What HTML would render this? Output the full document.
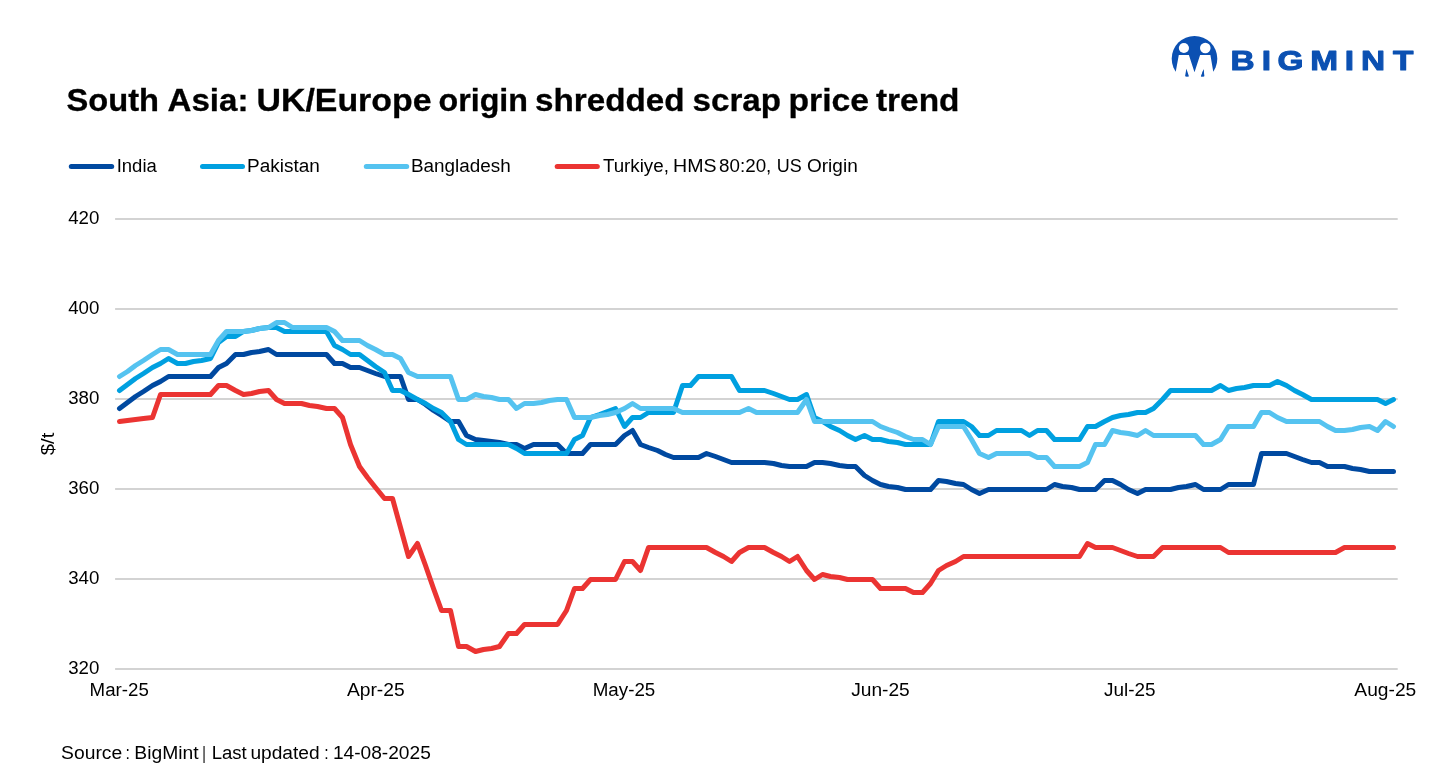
<!DOCTYPE html>
<html lang="en">
<head>
<meta charset="utf-8">
<title>South Asia: UK/Europe origin shredded scrap price trend</title>
<style>
html,body{margin:0;padding:0;background:#fff;}
body{width:1434px;height:778px;overflow:hidden;position:relative;font-family:"Liberation Sans",sans-serif;color:#000;}
svg{position:absolute;left:0;top:0;}
text{font-family:"Liberation Sans",sans-serif;}
.t{font-size:18px;fill:#000;}
</style>
</head>
<body>
<svg width="1434" height="778" viewBox="0 0 1434 778">
<g id="logo">
<defs><clipPath id="lc"><rect x="1160" y="30" width="70" height="46.6"/></clipPath></defs>
<circle cx="1194.5" cy="58.7" r="22.8" fill="#0B50B2" clip-path="url(#lc)"/>
<circle cx="1183.9" cy="48" r="5.1" fill="#fff"/>
<circle cx="1205.3" cy="48" r="5.3" fill="#fff"/>
<polygon fill="#fff" points="1178.8,54.9 1188.9,54.9 1194.5,72.3 1200.1,54.9 1210.4,54.9 1213.4,72.6 1213.4,82 1204.2,82 1203.5,69.2 1201,77 1188,77 1186.2,69.2 1185.5,82 1175.6,82 1175.6,72.6"/>
<polygon fill="#0B50B2" points="1186.4,68.8 1185.1,76.3 1189,76.5"/>
<polygon fill="#0B50B2" points="1203.6,69.2 1200.9,76.5 1204.4,76.3"/>
<text id="bm" font-size="27.6" font-weight="bold" fill="#0B50B2" stroke="#0B50B2" stroke-width="1" stroke-linejoin="round" transform="translate(0,70.4) scale(1.21,1.03)" y="0" x="1016.94 1042.81 1055.70 1082.77 1111.45 1124.75 1151.24">BIGMINT</text>
</g>
<text id="title" y="111.4" font-size="32" font-weight="bold" stroke="#000" stroke-width="0.3"><tspan x="66.5" textLength="92.5" lengthAdjust="spacingAndGlyphs">South</tspan> <tspan x="167.5" textLength="81.0" lengthAdjust="spacingAndGlyphs">Asia:</tspan> <tspan x="256.5" textLength="175.0" lengthAdjust="spacingAndGlyphs">UK/Europe</tspan> <tspan x="438.5" textLength="89.5" lengthAdjust="spacingAndGlyphs">origin</tspan> <tspan x="535.0" textLength="149.5" lengthAdjust="spacingAndGlyphs">shredded</tspan> <tspan x="692.5" textLength="88.5" lengthAdjust="spacingAndGlyphs">scrap</tspan> <tspan x="788.5" textLength="80.5" lengthAdjust="spacingAndGlyphs">price</tspan> <tspan x="876.0" textLength="83.5" lengthAdjust="spacingAndGlyphs">trend</tspan></text>
<line x1="71.3" y1="166.5" x2="111.7" y2="166.5" stroke="#0049A0" stroke-width="5" stroke-linecap="round"/><text class="t" id="l0" y="171.9" ><tspan x="116.7" textLength="40.1" lengthAdjust="spacingAndGlyphs">India</tspan></text>
<line x1="202.5" y1="166.5" x2="242.5" y2="166.5" stroke="#00A0E0" stroke-width="5" stroke-linecap="round"/><text class="t" id="l1" y="171.9" ><tspan x="247.1" textLength="72.8" lengthAdjust="spacingAndGlyphs">Pakistan</tspan></text>
<line x1="366.3" y1="166.5" x2="406.7" y2="166.5" stroke="#55C3F0" stroke-width="5" stroke-linecap="round"/><text class="t" id="l2" y="171.9" ><tspan x="411.0" textLength="99.7" lengthAdjust="spacingAndGlyphs">Bangladesh</tspan></text>
<line x1="557.2" y1="166.5" x2="597.3" y2="166.5" stroke="#EB3432" stroke-width="5" stroke-linecap="round"/><text class="t" id="l3" y="171.9" ><tspan x="602.9" textLength="66.0" lengthAdjust="spacingAndGlyphs">Turkiye,</tspan> <tspan x="673.1" textLength="43.5" lengthAdjust="spacingAndGlyphs">HMS</tspan> <tspan x="719.1" textLength="52.2" lengthAdjust="spacingAndGlyphs">80:20,</tspan> <tspan x="776.7" textLength="25.0" lengthAdjust="spacingAndGlyphs">US</tspan> <tspan x="807.0" textLength="50.7" lengthAdjust="spacingAndGlyphs">Origin</tspan></text>
<line x1="115.1" y1="669.0" x2="1397.7" y2="669.0" stroke="#D3D3D3" stroke-width="2"/><text class="t" x="99.4" y="674.3" text-anchor="end" textLength="31.2" lengthAdjust="spacingAndGlyphs">320</text>
<line x1="115.1" y1="579.0" x2="1397.7" y2="579.0" stroke="#D3D3D3" stroke-width="2"/><text class="t" x="99.4" y="584.3" text-anchor="end" textLength="31.2" lengthAdjust="spacingAndGlyphs">340</text>
<line x1="115.1" y1="489.0" x2="1397.7" y2="489.0" stroke="#D3D3D3" stroke-width="2"/><text class="t" x="99.4" y="494.3" text-anchor="end" textLength="31.2" lengthAdjust="spacingAndGlyphs">360</text>
<line x1="115.1" y1="399.0" x2="1397.7" y2="399.0" stroke="#D3D3D3" stroke-width="2"/><text class="t" x="99.4" y="404.3" text-anchor="end" textLength="31.2" lengthAdjust="spacingAndGlyphs">380</text>
<line x1="115.1" y1="309.0" x2="1397.7" y2="309.0" stroke="#D3D3D3" stroke-width="2"/><text class="t" x="99.4" y="314.3" text-anchor="end" textLength="31.2" lengthAdjust="spacingAndGlyphs">400</text>
<line x1="115.1" y1="219.0" x2="1397.7" y2="219.0" stroke="#D3D3D3" stroke-width="2"/><text class="t" x="99.4" y="224.3" text-anchor="end" textLength="31.2" lengthAdjust="spacingAndGlyphs">420</text>
<text class="t" transform="translate(54.4,444) rotate(-90)" text-anchor="middle" textLength="22.6" lengthAdjust="spacingAndGlyphs">$/t</text>
<text class="t" x="119.2" y="696.3" text-anchor="middle" textLength="59.2" lengthAdjust="spacingAndGlyphs">Mar-25</text>
<text class="t" x="375.8" y="696.3" text-anchor="middle" textLength="57.8" lengthAdjust="spacingAndGlyphs">Apr-25</text>
<text class="t" x="624.0" y="696.3" text-anchor="middle" textLength="62.6" lengthAdjust="spacingAndGlyphs">May-25</text>
<text class="t" x="880.5" y="696.3" text-anchor="middle" textLength="58.6" lengthAdjust="spacingAndGlyphs">Jun-25</text>
<text class="t" x="1129.8" y="696.3" text-anchor="middle" textLength="51.6" lengthAdjust="spacingAndGlyphs">Jul-25</text>
<text class="t" x="1385.3" y="696.3" text-anchor="middle" textLength="61.9" lengthAdjust="spacingAndGlyphs">Aug-25</text>
<polyline fill="none" stroke="#0049A0" stroke-width="5" stroke-linejoin="round" stroke-linecap="round" points="119.5,408.5 127.5,402.5 135.5,396.5 143.5,391.5 152.5,385.5 160.5,381.5 168.5,376.5 177.5,376.5 185.5,376.5 193.5,376.5 201.5,376.5 210.5,376.5 218.5,367.5 226.5,363.5 235.5,354.5 243.5,354.5 251.5,352.5 259.5,351.5 268.5,349.5 276.5,354.5 284.5,354.5 292.5,354.5 301.5,354.5 309.5,354.5 317.5,354.5 326.5,354.5 334.5,363.5 342.5,363.5 350.5,367.5 359.5,367.5 367.5,370.5 375.5,373.5 384.5,376.5 392.5,376.5 400.5,376.5 408.5,399.5 417.5,399.5 425.5,404.5 433.5,410.5 441.5,415.5 450.5,421.5 458.5,421.5 466.5,435.5 475.5,439.5 483.5,440.5 491.5,441.5 499.5,442.5 508.5,444.5 516.5,444.5 524.5,448.5 533.5,444.5 541.5,444.5 549.5,444.5 557.5,444.5 566.5,453.5 574.5,453.5 582.5,453.5 590.5,444.5 599.5,444.5 607.5,444.5 615.5,444.5 624.5,435.5 632.5,430.5 640.5,444.5 648.5,447.5 657.5,450.5 665.5,454.5 673.5,457.5 682.5,457.5 690.5,457.5 698.5,457.5 706.5,453.5 715.5,456.5 723.5,459.5 731.5,462.5 739.5,462.5 748.5,462.5 756.5,462.5 764.5,462.5 773.5,463.5 781.5,465.5 789.5,466.5 797.5,466.5 806.5,466.5 814.5,462.5 822.5,462.5 830.5,463.5 839.5,465.5 847.5,466.5 855.5,466.5 864.5,475.5 872.5,480.5 880.5,484.5 888.5,486.5 897.5,487.5 905.5,489.5 913.5,489.5 922.5,489.5 930.5,489.5 938.5,480.5 946.5,481.5 955.5,483.5 963.5,484.5 971.5,489.5 979.5,493.5 988.5,489.5 996.5,489.5 1004.5,489.5 1013.5,489.5 1021.5,489.5 1029.5,489.5 1037.5,489.5 1046.5,489.5 1054.5,484.5 1062.5,486.5 1071.5,487.5 1079.5,489.5 1087.5,489.5 1095.5,489.5 1104.5,480.5 1112.5,480.5 1120.5,484.5 1128.5,489.5 1137.5,493.5 1145.5,489.5 1153.5,489.5 1162.5,489.5 1170.5,489.5 1178.5,487.5 1186.5,486.5 1195.5,484.5 1203.5,489.5 1211.5,489.5 1220.5,489.5 1228.5,484.5 1236.5,484.5 1244.5,484.5 1253.5,484.5 1261.5,453.5 1269.5,453.5 1277.5,453.5 1286.5,453.5 1294.5,456.5 1302.5,459.5 1311.5,462.5 1319.5,462.5 1327.5,466.5 1335.5,466.5 1344.5,466.5 1352.5,468.5 1360.5,469.5 1369.5,471.5 1377.5,471.5 1385.5,471.5 1393.5,471.5"/>
<polyline fill="none" stroke="#00A0E0" stroke-width="5" stroke-linejoin="round" stroke-linecap="round" points="119.5,390.5 127.5,384.5 135.5,378.5 143.5,373.5 152.5,367.5 160.5,363.5 168.5,358.5 177.5,363.5 185.5,363.5 193.5,361.5 201.5,360.5 210.5,358.5 218.5,342.5 226.5,336.5 235.5,336.5 243.5,331.5 251.5,330.5 259.5,328.5 268.5,327.5 276.5,327.5 284.5,331.5 292.5,331.5 301.5,331.5 309.5,331.5 317.5,331.5 326.5,331.5 334.5,345.5 342.5,349.5 350.5,354.5 359.5,354.5 367.5,360.5 375.5,366.5 384.5,372.5 392.5,390.5 400.5,390.5 408.5,394.5 417.5,399.5 425.5,403.5 433.5,408.5 441.5,412.5 450.5,421.5 458.5,439.5 466.5,444.5 475.5,444.5 483.5,444.5 491.5,444.5 499.5,444.5 508.5,444.5 516.5,448.5 524.5,453.5 533.5,453.5 541.5,453.5 549.5,453.5 557.5,453.5 566.5,453.5 574.5,439.5 582.5,435.5 590.5,417.5 599.5,414.5 607.5,411.5 615.5,408.5 624.5,426.5 632.5,417.5 640.5,417.5 648.5,412.5 657.5,412.5 665.5,412.5 673.5,412.5 682.5,385.5 690.5,385.5 698.5,376.5 706.5,376.5 715.5,376.5 723.5,376.5 731.5,376.5 739.5,390.5 748.5,390.5 756.5,390.5 764.5,390.5 773.5,393.5 781.5,396.5 789.5,399.5 797.5,399.5 806.5,394.5 814.5,417.5 822.5,421.5 830.5,426.5 839.5,430.5 847.5,435.5 855.5,439.5 864.5,435.5 872.5,439.5 880.5,439.5 888.5,441.5 897.5,442.5 905.5,444.5 913.5,444.5 922.5,444.5 930.5,444.5 938.5,421.5 946.5,421.5 955.5,421.5 963.5,421.5 971.5,426.5 979.5,435.5 988.5,435.5 996.5,430.5 1004.5,430.5 1013.5,430.5 1021.5,430.5 1029.5,435.5 1037.5,430.5 1046.5,430.5 1054.5,439.5 1062.5,439.5 1071.5,439.5 1079.5,439.5 1087.5,426.5 1095.5,426.5 1104.5,421.5 1112.5,417.5 1120.5,415.5 1128.5,414.5 1137.5,412.5 1145.5,412.5 1153.5,408.5 1162.5,399.5 1170.5,390.5 1178.5,390.5 1186.5,390.5 1195.5,390.5 1203.5,390.5 1211.5,390.5 1220.5,385.5 1228.5,390.5 1236.5,388.5 1244.5,387.5 1253.5,385.5 1261.5,385.5 1269.5,385.5 1277.5,381.5 1286.5,385.5 1294.5,390.5 1302.5,394.5 1311.5,399.5 1319.5,399.5 1327.5,399.5 1335.5,399.5 1344.5,399.5 1352.5,399.5 1360.5,399.5 1369.5,399.5 1377.5,399.5 1385.5,403.5 1393.5,399.5"/>
<polyline fill="none" stroke="#55C3F0" stroke-width="5" stroke-linejoin="round" stroke-linecap="round" points="119.5,376.5 127.5,371.5 135.5,365.5 143.5,360.5 152.5,354.5 160.5,349.5 168.5,349.5 177.5,354.5 185.5,354.5 193.5,354.5 201.5,354.5 210.5,354.5 218.5,340.5 226.5,331.5 235.5,331.5 243.5,331.5 251.5,330.5 259.5,328.5 268.5,327.5 276.5,322.5 284.5,322.5 292.5,327.5 301.5,327.5 309.5,327.5 317.5,327.5 326.5,327.5 334.5,331.5 342.5,340.5 350.5,340.5 359.5,340.5 367.5,345.5 375.5,349.5 384.5,354.5 392.5,354.5 400.5,358.5 408.5,372.5 417.5,376.5 425.5,376.5 433.5,376.5 441.5,376.5 450.5,376.5 458.5,399.5 466.5,399.5 475.5,394.5 483.5,396.5 491.5,397.5 499.5,399.5 508.5,399.5 516.5,408.5 524.5,403.5 533.5,403.5 541.5,402.5 549.5,400.5 557.5,399.5 566.5,399.5 574.5,417.5 582.5,417.5 590.5,417.5 599.5,415.5 607.5,414.5 615.5,412.5 624.5,408.5 632.5,403.5 640.5,408.5 648.5,408.5 657.5,408.5 665.5,408.5 673.5,408.5 682.5,412.5 690.5,412.5 698.5,412.5 706.5,412.5 715.5,412.5 723.5,412.5 731.5,412.5 739.5,412.5 748.5,408.5 756.5,412.5 764.5,412.5 773.5,412.5 781.5,412.5 789.5,412.5 797.5,412.5 806.5,399.5 814.5,421.5 822.5,421.5 830.5,421.5 839.5,421.5 847.5,421.5 855.5,421.5 864.5,421.5 872.5,421.5 880.5,426.5 888.5,429.5 897.5,432.5 905.5,436.5 913.5,439.5 922.5,439.5 930.5,444.5 938.5,426.5 946.5,426.5 955.5,426.5 963.5,426.5 971.5,439.5 979.5,453.5 988.5,457.5 996.5,453.5 1004.5,453.5 1013.5,453.5 1021.5,453.5 1029.5,453.5 1037.5,457.5 1046.5,457.5 1054.5,466.5 1062.5,466.5 1071.5,466.5 1079.5,466.5 1087.5,462.5 1095.5,444.5 1104.5,444.5 1112.5,430.5 1120.5,432.5 1128.5,433.5 1137.5,435.5 1145.5,430.5 1153.5,435.5 1162.5,435.5 1170.5,435.5 1178.5,435.5 1186.5,435.5 1195.5,435.5 1203.5,444.5 1211.5,444.5 1220.5,439.5 1228.5,426.5 1236.5,426.5 1244.5,426.5 1253.5,426.5 1261.5,412.5 1269.5,412.5 1277.5,417.5 1286.5,421.5 1294.5,421.5 1302.5,421.5 1311.5,421.5 1319.5,421.5 1327.5,426.5 1335.5,430.5 1344.5,430.5 1352.5,429.5 1360.5,427.5 1369.5,426.5 1377.5,430.5 1385.5,421.5 1393.5,426.5"/>
<polyline fill="none" stroke="#EB3432" stroke-width="5" stroke-linejoin="round" stroke-linecap="round" points="119.5,421.5 127.5,420.5 135.5,419.5 143.5,418.5 152.5,417.5 160.5,394.5 168.5,394.5 177.5,394.5 185.5,394.5 193.5,394.5 201.5,394.5 210.5,394.5 218.5,385.5 226.5,385.5 235.5,390.5 243.5,394.5 251.5,393.5 259.5,391.5 268.5,390.5 276.5,399.5 284.5,403.5 292.5,403.5 301.5,403.5 309.5,405.5 317.5,406.5 326.5,408.5 334.5,408.5 342.5,417.5 350.5,444.5 359.5,466.5 367.5,477.5 375.5,487.5 384.5,498.5 392.5,498.5 400.5,527.5 408.5,556.5 417.5,543.5 425.5,565.5 433.5,588.5 441.5,610.5 450.5,610.5 458.5,646.5 466.5,646.5 475.5,651.5 483.5,649.5 491.5,648.5 499.5,646.5 508.5,633.5 516.5,633.5 524.5,624.5 533.5,624.5 541.5,624.5 549.5,624.5 557.5,624.5 566.5,610.5 574.5,588.5 582.5,588.5 590.5,579.5 599.5,579.5 607.5,579.5 615.5,579.5 624.5,561.5 632.5,561.5 640.5,570.5 648.5,547.5 657.5,547.5 665.5,547.5 673.5,547.5 682.5,547.5 690.5,547.5 698.5,547.5 706.5,547.5 715.5,552.5 723.5,556.5 731.5,561.5 739.5,552.5 748.5,547.5 756.5,547.5 764.5,547.5 773.5,552.5 781.5,556.5 789.5,561.5 797.5,556.5 806.5,570.5 814.5,579.5 822.5,574.5 830.5,576.5 839.5,577.5 847.5,579.5 855.5,579.5 864.5,579.5 872.5,579.5 880.5,588.5 888.5,588.5 897.5,588.5 905.5,588.5 913.5,592.5 922.5,592.5 930.5,583.5 938.5,570.5 946.5,565.5 955.5,561.5 963.5,556.5 971.5,556.5 979.5,556.5 988.5,556.5 996.5,556.5 1004.5,556.5 1013.5,556.5 1021.5,556.5 1029.5,556.5 1037.5,556.5 1046.5,556.5 1054.5,556.5 1062.5,556.5 1071.5,556.5 1079.5,556.5 1087.5,543.5 1095.5,547.5 1104.5,547.5 1112.5,547.5 1120.5,550.5 1128.5,553.5 1137.5,556.5 1145.5,556.5 1153.5,556.5 1162.5,547.5 1170.5,547.5 1178.5,547.5 1186.5,547.5 1195.5,547.5 1203.5,547.5 1211.5,547.5 1220.5,547.5 1228.5,552.5 1236.5,552.5 1244.5,552.5 1253.5,552.5 1261.5,552.5 1269.5,552.5 1277.5,552.5 1286.5,552.5 1294.5,552.5 1302.5,552.5 1311.5,552.5 1319.5,552.5 1327.5,552.5 1335.5,552.5 1344.5,547.5 1352.5,547.5 1360.5,547.5 1369.5,547.5 1377.5,547.5 1385.5,547.5 1393.5,547.5"/>
<text class="t" id="foot" y="758.6" ><tspan x="61.1" textLength="61.1" lengthAdjust="spacingAndGlyphs">Source</tspan> <tspan x="125.6" textLength="4.4" lengthAdjust="spacingAndGlyphs">:</tspan> <tspan x="134.3" textLength="64.3" lengthAdjust="spacingAndGlyphs">BigMint</tspan> <tspan x="202.3" textLength="3.6" lengthAdjust="spacingAndGlyphs">|</tspan> <tspan x="211.7" textLength="35.1" lengthAdjust="spacingAndGlyphs">Last</tspan> <tspan x="250.4" textLength="69.2" lengthAdjust="spacingAndGlyphs">updated</tspan> <tspan x="324.3" textLength="4.4" lengthAdjust="spacingAndGlyphs">:</tspan> <tspan x="332.9" textLength="97.9" lengthAdjust="spacingAndGlyphs">14-08-2025</tspan></text>
</svg>
</body>
</html>
